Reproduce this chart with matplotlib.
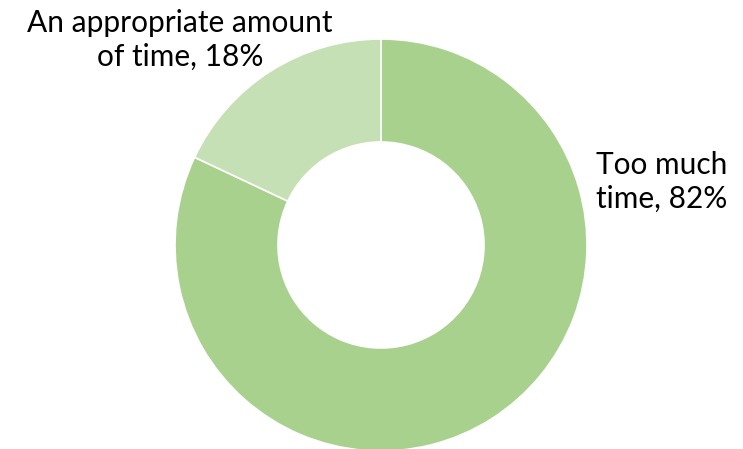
import matplotlib.pyplot as plt

labels = ['Too much\ntime, 82%', 'An appropriate amount\nof time, 18%']
shares = [82, 18]
colors = ['#A9D18E', '#C5E0B4']

plt.rcParams['font.family'] = ['Lato', 'DejaVu Sans']

fig = plt.figure(figsize=(7.43, 4.49), dpi=100)
# axes placed so the ring is centred at (381, 245) px with radius 206 px
cx, cy, r = 381 / 743, 1 - 245 / 449, 206
w, h = 2 * r / 743, 2 * r / 449
ax = fig.add_axes([cx - w / 2, cy - h / 2, w, h])

ax.pie(shares, colors=colors, startangle=90, counterclock=False,
       radius=1.0, wedgeprops=dict(width=0.5, edgecolor='white', linewidth=1.2))
ax.set_xlim(-1, 1)
ax.set_ylim(-1, 1)
ax.set_aspect('equal')
ax.axis('off')

fig.text(662 / 743, 1 - 182 / 449, labels[0], ha='center', va='center',
         fontsize=21.5, linespacing=1.25)
fig.text(180 / 743, 1 - 40 / 449, labels[1], ha='center', va='center',
         fontsize=21.5, linespacing=1.25)

fig.savefig('out.png', dpi=100)
